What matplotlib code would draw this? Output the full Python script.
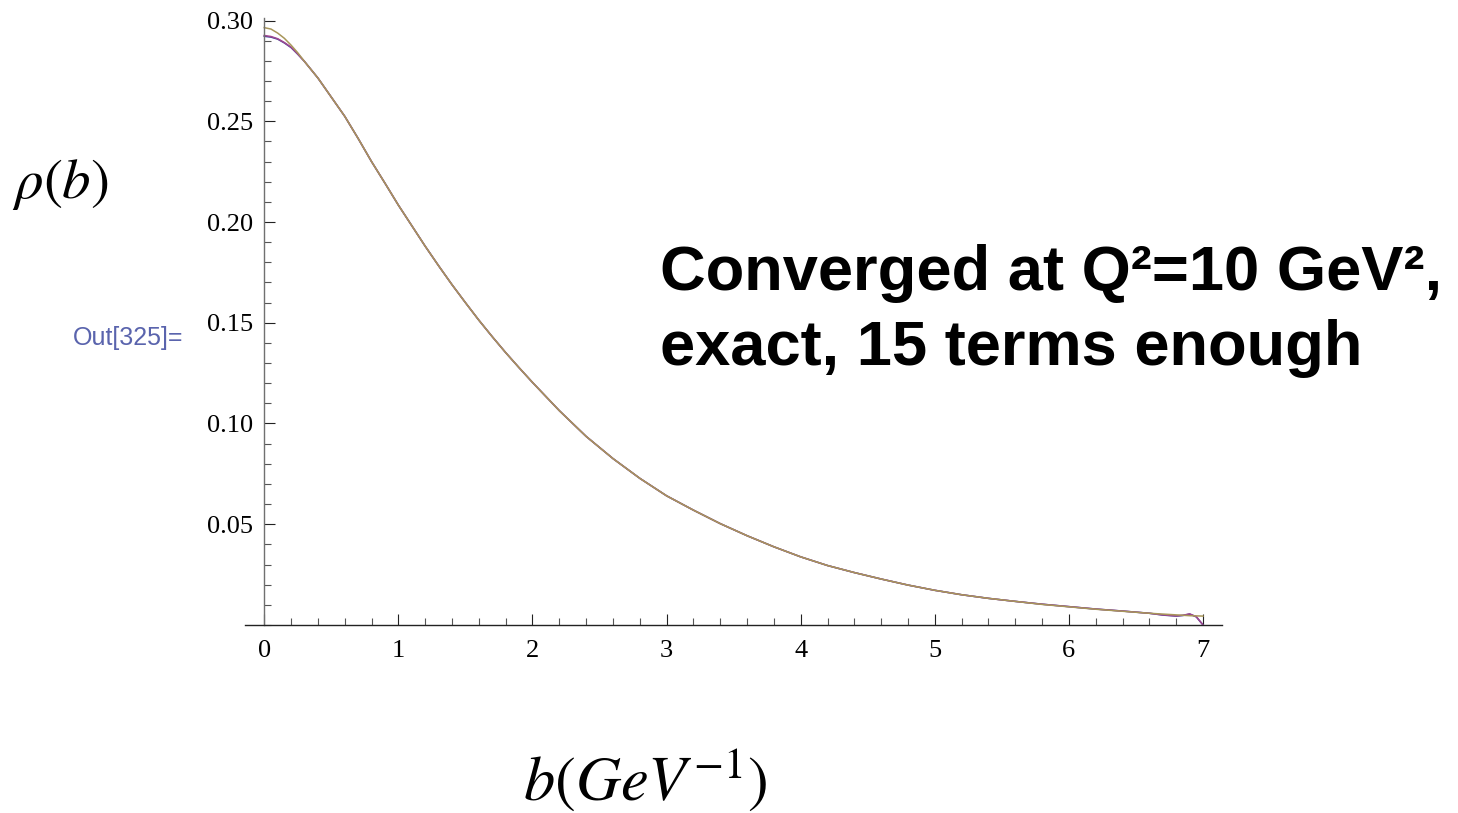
import matplotlib.pyplot as plt
from matplotlib.ticker import MultipleLocator, FormatStrFormatter

plt.rcParams['mathtext.fontset'] = 'stix'

# impact parameter grid (GeV^-1)
b_vals = [0.0, 0.05, 0.1, 0.15, 0.2, 0.25, 0.3, 0.4, 0.5, 0.6,
          0.7, 0.8, 0.9, 1.0, 1.1, 1.2, 1.3, 1.4, 1.5, 1.6,
          1.7, 1.8, 1.9, 2.0, 2.1, 2.2, 2.4, 2.6, 2.8, 3.0,
          3.2, 3.4, 3.6, 3.8, 4.0, 4.2, 4.4, 4.6, 4.8, 5.0,
          5.2, 5.4, 5.6, 5.8, 6.0, 6.2, 6.4, 6.6, 6.7, 6.8,
          6.85, 6.9, 6.95, 7.0]

# exact density
rho_exact = [0.2965, 0.2958, 0.2938, 0.2912, 0.2878, 0.2840, 0.2797, 0.2715, 0.2620, 0.2525,
             0.2415, 0.2300, 0.2193, 0.2084, 0.1982, 0.1880, 0.1783, 0.1689, 0.1600, 0.1513,
             0.1431, 0.1352, 0.1277, 0.1204, 0.1134, 0.1064, 0.0936, 0.0826, 0.0728, 0.0641,
             0.0570, 0.0503, 0.0443, 0.0388, 0.0338, 0.0295, 0.0260, 0.0228, 0.0198, 0.0172,
             0.0150, 0.0132, 0.0117, 0.0102, 0.0090, 0.0078, 0.0068, 0.0058, 0.0054, 0.0050,
             0.0048, 0.0046, 0.0045, 0.0044]

# truncated sums (15 and 20 terms)
rho_15 = [0.2922, 0.2918, 0.2908, 0.2889, 0.2866, 0.2833, 0.2797, 0.2715, 0.2620, 0.2525,
          0.2415, 0.2300, 0.2193, 0.2084, 0.1982, 0.1880, 0.1783, 0.1689, 0.1600, 0.1513,
          0.1431, 0.1352, 0.1277, 0.1204, 0.1134, 0.1064, 0.0936, 0.0826, 0.0728, 0.0641,
          0.0570, 0.0503, 0.0443, 0.0388, 0.0338, 0.0295, 0.0260, 0.0228, 0.0198, 0.0172,
          0.0150, 0.0132, 0.0117, 0.0103, 0.0091, 0.0079, 0.0069, 0.0058, 0.0049, 0.0044,
          0.0047, 0.0054, 0.0040, 0.0000]
rho_20 = [0.2926, 0.2921, 0.2910, 0.2891, 0.2868, 0.2834, 0.2797, 0.2715, 0.2620, 0.2525,
          0.2415, 0.2300, 0.2193, 0.2084, 0.1982, 0.1880, 0.1783, 0.1689, 0.1600, 0.1513,
          0.1431, 0.1352, 0.1277, 0.1204, 0.1134, 0.1064, 0.0936, 0.0826, 0.0728, 0.0641,
          0.0570, 0.0503, 0.0443, 0.0388, 0.0338, 0.0295, 0.0260, 0.0228, 0.0198, 0.0172,
          0.0150, 0.0132, 0.0117, 0.0103, 0.0091, 0.0079, 0.0069, 0.0058, 0.0050, 0.0045,
          0.0048, 0.0055, 0.0041, 0.0000]

fig = plt.figure(figsize=(14.58, 8.13), dpi=100)
ax = fig.add_axes([0.168, 0.2313, 0.670, 0.7466])

ax.plot(b_vals, rho_15, color='#3d3d99', lw=1.1, clip_on=False)
ax.plot(b_vals, rho_20, color='#a04890', lw=1.1, clip_on=False)
ax.plot(b_vals, rho_exact, color='#a8965a', lw=1.1, clip_on=False)

ax.set_xlim(-0.144, 7.14)
ax.set_ylim(0, 0.3013)

# axes cross at the origin
for side in ['top', 'right']:
    ax.spines[side].set_visible(False)
ax.spines['left'].set_position(('data', 0))
ax.spines['bottom'].set_position(('data', 0))
ax.spines['left'].set_color('#707070')
ax.spines['bottom'].set_color('#222222')
ax.spines['left'].set_linewidth(1.0)
ax.spines['bottom'].set_linewidth(1.0)

ax.xaxis.set_major_locator(MultipleLocator(1))
ax.xaxis.set_minor_locator(MultipleLocator(0.2))
ax.yaxis.set_major_locator(MultipleLocator(0.05))
ax.yaxis.set_minor_locator(MultipleLocator(0.01))
ax.yaxis.set_major_formatter(FormatStrFormatter('%.2f'))
ax.set_yticks([0.05, 0.10, 0.15, 0.20, 0.25, 0.30])

ax.tick_params(which='major', direction='in', length=8, width=0.8, color='#222222',
               labelsize=19, labelfontfamily='Liberation Serif')
ax.tick_params(which='minor', direction='in', length=5, width=0.8, color='#555555')
ax.tick_params(axis='y', which='major', pad=8)
ax.tick_params(axis='x', which='major', pad=11)

fig.text(0.0412, 0.7725, r'$\rho(b)$', fontsize=41, ha='center', va='center')
fig.text(0.4424, 0.041, r'$b(GeV^{-1})$', fontsize=45, ha='center', va='center')
fig.text(0.0878, 0.5843, 'Out[325]=', fontsize=18, color='#5a64ad',
         family='Liberation Sans', ha='center', va='center')

fig.text(660 / 1458, 1 - 290 / 813, 'Converged at Q²=10 GeV²,', fontsize=45.5,
         fontweight='bold', family='Liberation Sans', ha='left', va='baseline')
fig.text(660 / 1458, 1 - 365 / 813, 'exact, 15 terms enough', fontsize=45.5,
         fontweight='bold', family='Liberation Sans', ha='left', va='baseline')

fig.savefig('out.png', dpi=100)
